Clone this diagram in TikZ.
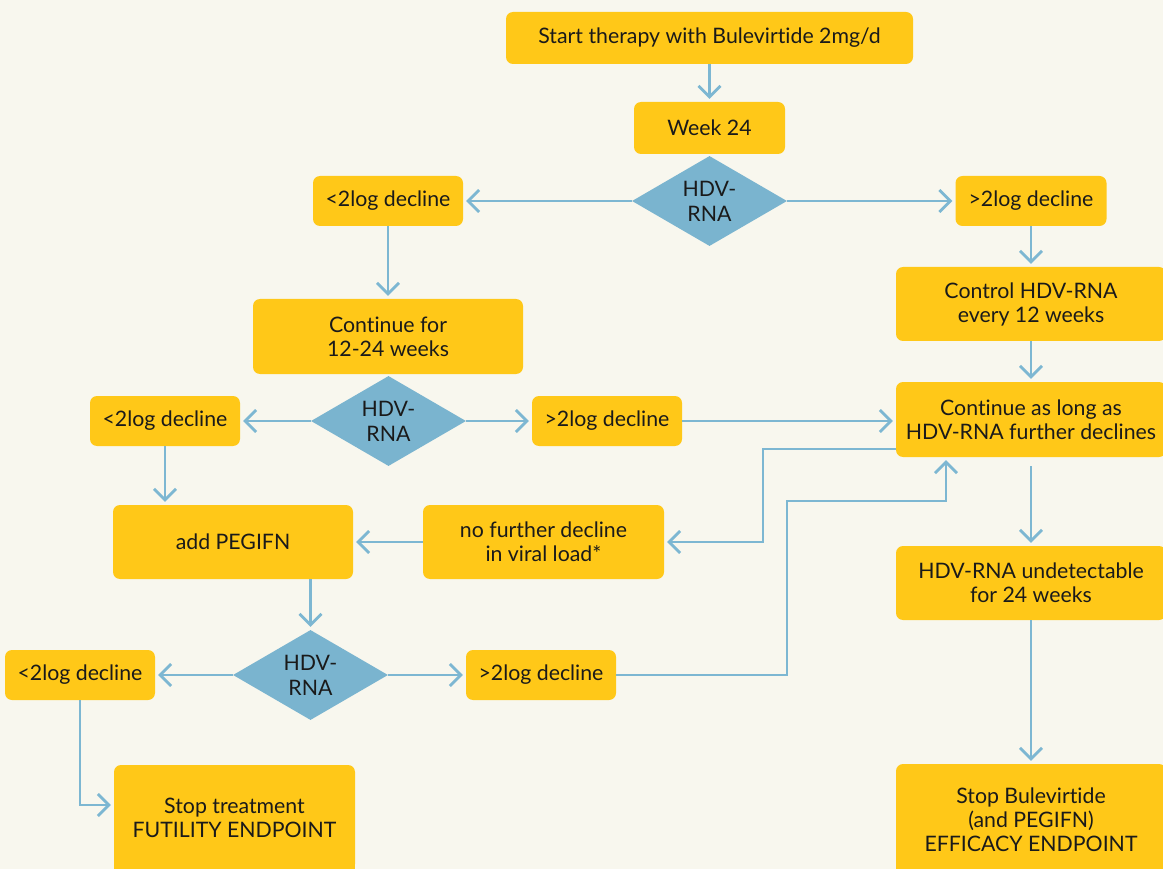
\documentclass[tikz,border=0pt]{standalone}
\usepackage{fontspec}
\setmainfont[Ligatures={NoCommon,NoRare}]{Lato}
\usetikzlibrary{arrows.meta,shapes.geometric,calc}
\definecolor{bg}{HTML}{F8F7EE}
\definecolor{yel}{HTML}{FFC818}
\definecolor{dia}{HTML}{7AB4CF}
\definecolor{ln}{HTML}{7DB7D2}
\definecolor{txt}{HTML}{1A1A1A}
\begin{document}
\begin{tikzpicture}[x=1pt,y=-1pt,
  box/.style={fill=yel, rounded corners=7pt, draw=none, align=center, text=txt,
    inner sep=0pt, font=\fontsize{21.3}{24}\selectfont},
  dec/.style={diamond, fill=dia, draw=none, align=center, text=txt, inner sep=0pt,
    minimum width=155, minimum height=90, aspect=1.72, font=\fontsize{21.3}{25}\selectfont},
  conn/.style={draw=ln, line width=2.8pt, shorten >=3pt,
    -{Straight Barb[length=11pt,width=22pt]}}]
\fill[bg] (0,0) rectangle (1163,869);
\useasboundingbox (0,0) rectangle (1163,869);
\clip (0,0) rectangle (1163,869);

\node[box, minimum width=407, minimum height=52] (start) at (709.5,38) {Start therapy with Bulevirtide 2mg/d};
\node[box, minimum width=151, minimum height=52] (w24) at (709.5,128) {Week 24};
\node[dec] (d1) at (709.5,201) {HDV-\\RNA};
\node[box, minimum width=150, minimum height=50] (l1) at (388,201) {<2log decline};
\node[box, minimum width=151, minimum height=50] (r1) at (1031,201) {>2log decline};
\node[box, minimum width=270, minimum height=75] (c1224) at (388,336.5) {Continue for\\12-24 weeks};
\node[dec] (d2) at (388.5,421) {HDV-\\RNA};
\node[box, minimum width=150, minimum height=50] (l2) at (165,421) {<2log decline};
\node[box, minimum width=150, minimum height=50] (m2) at (607,421) {>2log decline};
\node[box, minimum width=270, minimum height=74] (ctrl) at (1031,304) {Control HDV-RNA\\every 12 weeks};
\node[box, minimum width=270, minimum height=75] (cl) at (1031,419.5) {Continue as long as\\HDV-RNA further declines};
\node[box, minimum width=240, minimum height=74] (peg) at (233,542) {add PEGIFN};
\node[box, minimum width=241, minimum height=74] (nfd) at (543.5,542) {no further decline\\in viral load*};
\node[box, minimum width=270, minimum height=74] (und) at (1031,583) {HDV-RNA undetectable\\for 24 weeks};
\node[dec] (d3) at (310.5,675) {HDV-\\RNA};
\node[box, minimum width=150, minimum height=50] (l3) at (80,675) {<2log decline};
\node[box, minimum width=150, minimum height=50] (m3) at (541,675) {>2log decline};
\fill[yel] (114,840) rectangle (355,880);
\node[box, minimum width=241, minimum height=106] (stopF) at (234.5,818) {Stop treatment\\FUTILITY ENDPOINT};
\node[box, minimum width=270, minimum height=112] (stopB) at (1031,820) {Stop Bulevirtide\\(and PEGIFN)\\EFFICACY ENDPOINT};

\coordinate (b1) at (763,449);
\coordinate (b2) at (787,501);
\coordinate (b3) at (946,0);
\coordinate (b4) at (80,805);

\draw[conn] (start) -- (w24);
\draw[conn] (d1.west) -- (l1.east);
\draw[conn] (d1.east) -- (r1.west);
\draw[conn] (l1) -- (c1224);
\draw[conn] (r1) -- (ctrl);
\draw[conn] (ctrl) -- (cl);
\draw[conn] (d2.west) -- (l2.east);
\draw[conn] (d2.east) -- (m2.west);
\draw[conn] (m2.east) -- (m2.east -| cl.west);
\draw[conn] (l2.south) -- (l2.south |- peg.north);
\draw[conn] (cl.west |- b1) -- (b1) |- (nfd.east);
\draw[conn] (nfd.west) -- (peg.east);
\draw[conn] (d3.north |- peg.south) -- (d3.north);
\draw[conn] (d3.west) -- (l3.east);
\draw[conn] (d3.east) -- (m3.west);
\draw[conn] (m3.east) -| (b2) -| (b3 |- cl.south);
\draw[conn] (l3.south) -- (b4) -- (b4 -| stopF.west);
\draw[conn, shorten <=9pt] (cl.south) -- (und.north);
\draw[conn] (und) -- (stopB);
\end{tikzpicture}
\end{document}
